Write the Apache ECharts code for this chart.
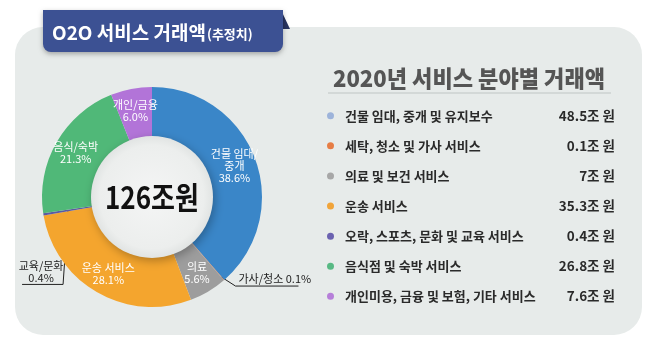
<!DOCTYPE html>
<html>
<head>
<meta charset="utf-8">
<script src="https://cdn.jsdelivr.net/npm/echarts@6/dist/echarts.min.js"></script>
<style>
  html, body { margin: 0; padding: 0; background: #ffffff; }
  #chart { width: 655px; height: 345px; }
</style>
</head>
<body>
<div id="chart"></div>
<script>
// ---- data ----
const categories = [
  '건물 임대, 중개 및 유지보수',
  '세탁, 청소 및 가사 서비스',
  '의료 및 보건 서비스',
  '운송 서비스',
  '오락, 스포츠, 문화 및 교육 서비스',
  '음식점 및 숙박 서비스',
  '개인미용, 금융 및 보험, 기타 서비스'
];
const values = [48.5, 0.1, 7, 35.3, 0.4, 26.8, 7.6];          // 조 원
const shortLabels = ['건물 임대/\n중개', '가사/청소', '의료', '운송 서비스', '교육/문화', '음식/숙박', '개인/금융'];
const sharePct = ['38.6', '0.1', '5.6', '28.1', '0.4', '21.3', '6.0'];
const totalLabel = '126조원';
const chartTitle = 'O2O 서비스 거래액';
const chartTitleNote = '(추정치)';
const legendTitle = '2020년 서비스 분야별 거래액';
const unitLabel = '조 원';

// ---- styles ----
const sliceColors = ['#3a86c8', '#e07b48', '#9d9d9d', '#f4a52e', '#5b5aa2', '#50b878', '#b274d8'];
const dotColors = ['#9db3da', '#e67d45', '#a7a7a7', '#f1a43a', '#6b62b0', '#58b984', '#b67fd9'];
const CX = 152, CY = 197, R_IN = 60, R_OUT = 110;
const FONT = '"Noto Sans CJK KR", "Noto Sans", sans-serif';

const total = values.reduce((a, b) => a + b, 0);
function midAngle(i) {
  let before = 0;
  for (let k = 0; k < i; k++) before += values[k];
  return (90 - (before + values[i] / 2) / total * 360) * Math.PI / 180;
}
function pointAt(i, r) {
  const a = midAngle(i);
  return [CX + r * Math.cos(a), CY - r * Math.sin(a)];
}

const outsideIdx = [1, 4];

const pieData = categories.map((name, i) => {
  const item = { name: name, value: values[i], itemStyle: { color: sliceColors[i] } };
  if (outsideIdx.indexOf(i) >= 0) {
    item.label = { position: 'outside', color: '#222', fontSize: 11, lineHeight: 12 };
    item.labelLine = { show: true, lineStyle: { color: '#222', width: 1 } };
  }
  return item;
});

const chart = echarts.init(document.getElementById('chart'));
chart.setOption({
  animation: false,
  textStyle: { fontFamily: FONT },
  legend: {
    orient: 'vertical',
    left: 322,
    top: 104,
    itemGap: 16.6,
    itemWidth: 7,
    itemHeight: 7,
    icon: 'circle',
    selectedMode: false,
    data: categories.map((name, i) => ({ name: name, itemStyle: { color: dotColors[i] } })),
    formatter: function (name) {
      const i = categories.indexOf(name);
      return '{n|' + name + '}{v|' + values[i] + unitLabel + '}';
    },
    textStyle: {
      rich: {
        n: { width: 210, fontSize: 13, fontWeight: 'bold', color: '#2a2a2a', lineHeight: 16, padding: [0, 0, 0, 6], fontFamily: FONT },
        v: { width: 60, align: 'right', fontSize: 13.5, fontWeight: 'bold', color: '#2a2a2a', lineHeight: 16, fontFamily: FONT }
      }
    }
  },
  graphic: [
    { type: 'rect', z: -10, silent: true, shape: { x: 15, y: 27, width: 627, height: 308, r: 28 }, style: { fill: '#e7ebea' } },
    { type: 'polygon', z: 20, silent: true, shape: { points: [[281, 10], [290, 29], [281, 29]] }, style: { fill: '#27335f' } },
    { type: 'rect', z: 21, silent: true, shape: { x: 43, y: 10, width: 240, height: 42, r: [0, 0, 8, 8] },
      style: { fill: '#3c5193', shadowBlur: 5, shadowOffsetY: 2, shadowColor: 'rgba(0,0,0,0.3)' } },
    { type: 'text', z: 22, silent: true, x: 52, y: 33,
      style: { text: '{a|' + chartTitle + '}{b|' + chartTitleNote + '}', verticalAlign: 'middle', fill: '#fff',
        rich: { a: { fontSize: 19, fontWeight: 'bold', fill: '#fff', fontFamily: FONT },
                b: { fontSize: 13, fontWeight: 'bold', fill: '#fff', fontFamily: FONT, padding: [3, 0, 0, 1] } } } },
    { type: 'text', z: 5, silent: true, x: 469, y: 78, scaleX: 0.96,
      style: { text: legendTitle, align: 'center', verticalAlign: 'middle', fontSize: 23, fontWeight: 900, fill: '#555', fontFamily: FONT } },
    { type: 'line', z: 5, silent: true, shape: { x1: 328, y1: 93, x2: 611, y2: 93 }, style: { stroke: '#cdd2d0', lineWidth: 1.5 } },
    { type: 'text', z: 30, silent: true, x: CX, y: CY, scaleX: 0.84,
      style: { text: totalLabel, align: 'center', verticalAlign: 'middle', fontSize: 31, fontWeight: 'bold', fill: '#111', fontFamily: FONT } }
  ],
  series: [
    {
      type: 'pie',
      z: 2,
      center: [CX, CY],
      radius: [R_IN, R_OUT],
      startAngle: 90,
      clockwise: true,
      avoidLabelOverlap: false,
      silent: true,
      emphasis: { disabled: true },
      label: {
        show: true,
        position: 'inside',
        color: '#fff',
        fontSize: 11,
        lineHeight: 12,
        fontFamily: FONT,
        formatter: function (p) { return shortLabels[p.dataIndex] + (p.dataIndex === 1 ? ' ' : '\n') + sharePct[p.dataIndex] + '%'; }
      },
      labelLine: { show: false },
      labelLayout: function (params) {
        const i = params.dataIndex;
        if (i === 1) {
          const d = pointAt(i, 106);
          return { x: d[0] + 17, y: d[1] + 8, align: 'left', verticalAlign: 'bottom',
            labelLinePoints: [d, [d[0] + 14, d[1] + 9], [d[0] + 77, d[1] + 9]] };
        }
        if (i === 4) {
          const d = pointAt(i, 85);
          return { x: d[0] - 27, y: d[1] + 73, align: 'center', verticalAlign: 'bottom',
            labelLinePoints: [d, [d[0] - 5, d[1] + 74], [d[0] - 46, d[1] + 74]] };
        }
      },
      data: pieData
    },
    {
      type: 'pie',
      z: 3,
      center: [CX, CY],
      radius: [0, R_IN + 1],
      silent: true,
      emphasis: { disabled: true },
      label: { show: false },
      labelLine: { show: false },
      data: [{ name: '_disc', value: 1, itemStyle: {
        color: { type: 'radial', x: 0.5, y: 0.5, r: 0.5, colorStops: [
          { offset: 0, color: '#f4f5f5' }, { offset: 0.85, color: '#eceeed' }, { offset: 1, color: '#e1e4e3' } ] },
        shadowBlur: 10, shadowColor: 'rgba(0,0,0,0.28)', shadowOffsetX: 2, shadowOffsetY: 3 } }]
    }
  ]
});
</script>
</body>
</html>
